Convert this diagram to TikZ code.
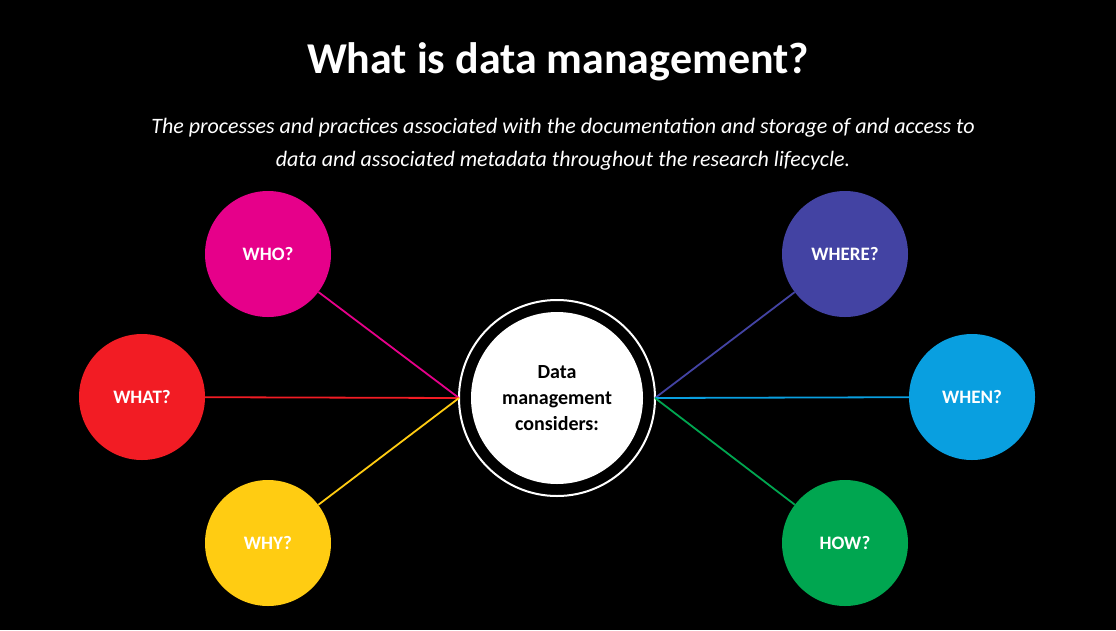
\documentclass[tikz,border=0pt]{standalone}
\usepackage{fontspec}
\setmainfont{Carlito}
\begin{document}
\begin{tikzpicture}[x=1pt,y=-1pt,
  q/.style={circle,minimum size=126pt,inner sep=0pt,text=white,font=\bfseries\fontsize{19}{22}\selectfont},
  ln/.style={line width=1.8pt}]
\definecolor{cwho}{HTML}{E6008A}\definecolor{cwhat}{HTML}{F21C24}\definecolor{cwhy}{HTML}{FFCC12}
\definecolor{cwhere}{HTML}{4343A3}\definecolor{cwhen}{HTML}{099FE0}\definecolor{chow}{HTML}{00A650}
\fill[black] (0,0) rectangle (1116,630);
\useasboundingbox (0,0) rectangle (1116,630);
\node[text=white,font=\bfseries\fontsize{44}{50}\selectfont] (title) at (558,62) {What is data management?};
\node[text=white,font=\itshape\fontsize{22}{33}\selectfont,align=center] (sub) at (563,144) {The processes and practices associated with the documentation and storage of and access to\\data and associated metadata throughout the research lifecycle.};
\node[circle,draw=white,line width=2pt,minimum size=196pt,inner sep=0pt] (ring) at (557,398) {};
\node[circle,fill=white,minimum size=172pt,inner sep=0pt,align=center,font=\bfseries\fontsize{20}{26}\selectfont] (c) at (557,398) {Data\\management\\considers:};
\coordinate (L) at (459,398); \coordinate (R) at (655,398);
\node[q,fill=cwho] (who) at (268,254) {WHO?};
\node[q,fill=cwhat] (what) at (142,397) {WHAT?};
\node[q,fill=cwhy] (why) at (268,543) {WHY?};
\node[q,fill=cwhere] (where) at (845,254) {WHERE?};
\node[q,fill=cwhen] (when) at (972,397) {WHEN?};
\node[q,fill=chow] (how) at (845,543) {HOW?};
\draw[ln,cwho] (who) -- (L);
\draw[ln,cwhat] (what) -- (L);
\draw[ln,cwhy] (why) -- (L);
\draw[ln,cwhere] (where) -- (R);
\draw[ln,cwhen] (when) -- (R);
\draw[ln,chow] (how) -- (R);
\end{tikzpicture}
\end{document}
